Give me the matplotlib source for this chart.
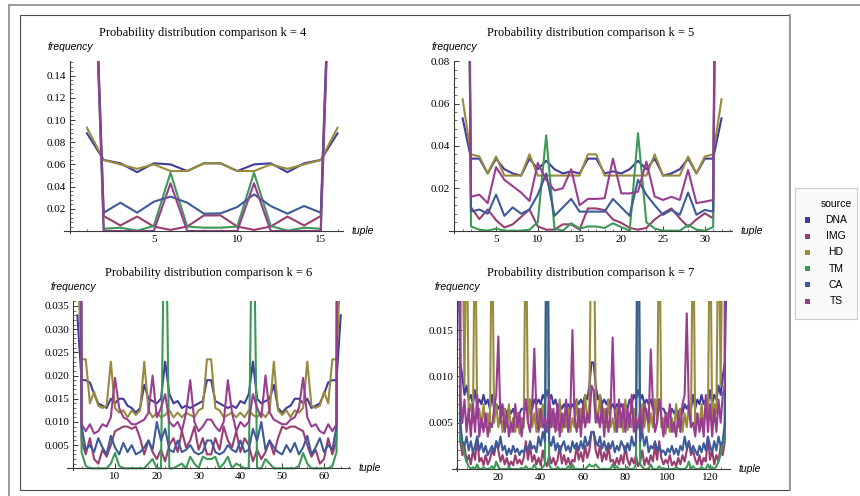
import numpy as np
import matplotlib
matplotlib.use('Agg')
import matplotlib.pyplot as plt
from matplotlib.patches import Rectangle
from matplotlib.lines import Line2D
from matplotlib.ticker import MultipleLocator

W, H = 860, 496

sources = ['DNA', 'IMG', 'HD', 'TM', 'CA', 'TS']
colors = [(0.2472, 0.24, 0.6), (0.6, 0.24, 0.442893), (0.6, 0.547014, 0.24),
          (0.24, 0.6, 0.33692), (0.24, 0.353173, 0.6), (0.6, 0.24, 0.563266)]

# ---- k = 4 (16 tuples)
dna4 = [0.088, 0.064, 0.061, 0.053, 0.061, 0.060, 0.054, 0.061, 0.061, 0.054, 0.060, 0.061, 0.053, 0.061, 0.064, 0.088]
img4 = [0.45, 0.0135, 0.005, 0.013, 0.004, 0.001, 0.004, 0.014, 0.014, 0.004, 0.001, 0.004, 0.013, 0.005, 0.0135, 0.45]
hd4 = [0.093, 0.064, 0.060, 0.056, 0.060, 0.054, 0.054, 0.061, 0.061, 0.054, 0.054, 0.060, 0.056, 0.060, 0.064, 0.093]
tm4 = [0.45, 0.002, 0.003, 0.0003, 0.0045, 0.0525, 0.004, 0.003, 0.003, 0.004, 0.0525, 0.0045, 0.0003, 0.003, 0.002, 0.45]
ca4 = [0.45, 0.0165, 0.0255, 0.0165, 0.0264, 0.031, 0.0255, 0.0156, 0.0159, 0.0216, 0.033, 0.0225, 0.0156, 0.0225, 0.0165, 0.45]
ts4 = [0.45, 0, 0, 0, 0, 0.043, 0, 0, 0, 0, 0.043, 0, 0, 0, 0, 0.45]

# ---- k = 5 (32 tuples)
dna5 = [0.053, 0.034, 0.034, 0.027, 0.034, 0.029, 0.027, 0.026, 0.034, 0.029, 0.033, 0.029, 0.027, 0.028, 0.027, 0.034,
        0.034, 0.027, 0.028, 0.027, 0.029, 0.033, 0.029, 0.034, 0.026, 0.027, 0.029, 0.034, 0.027, 0.034, 0.034, 0.053]
img5 = [0.5, 0.011, 0.0055, 0.010, 0.005, 0.0015, 0.003, 0.0065, 0.010, 0.002, 0.0005, 0.0005, 0.003, 0.003, 0.0005, 0.0105,
        0.0105, 0.0097, 0.0053, 0.0037, 0.0013, 0.0005, 0.0013, 0.0053, 0.0082, 0.0105, 0.0058, 0.0018, 0.0053, 0.0082, 0.0058, 0.5]
hd5 = [0.062, 0.036, 0.035, 0.027, 0.035, 0.026, 0.026, 0.026, 0.036, 0.026, 0.026, 0.026, 0.026, 0.026, 0.026, 0.036,
       0.036, 0.026, 0.026, 0.026, 0.026, 0.026, 0.026, 0.036, 0.026, 0.026, 0.026, 0.035, 0.027, 0.035, 0.036, 0.062]
tm5 = [0.5, 0.002, 0.0005, 0, 0.001, 0, 0, 0, 0.0005, 0.004, 0.045, 0.001, 0, 0.0035, 0.001, 0.002,
       0.002, 0.0013, 0.0035, 0.0017, 0, 0.046, 0.004, 0.001, 0, 0, 0, 0.0027, 0.0005, 0, 0.0017, 0.5]
ca5 = [0.5, 0.009, 0.010, 0.008, 0.017, 0.007, 0.011, 0.008, 0.010, 0.017, 0.027, 0.007, 0.011, 0.015, 0.009, 0.009,
       0.009, 0.009, 0.015, 0.011, 0.007, 0.024, 0.017, 0.012, 0.0075, 0.0098, 0.0075, 0.018, 0.0075, 0.0098, 0.009, 0.5]
ts5 = [0.55, 0.016, 0.017, 0.013, 0.030, 0.024, 0.021, 0.018, 0.014, 0.032, 0.024, 0.019, 0.020, 0.029, 0.012, 0.015,
       0.015, 0.0153, 0.034, 0.0176, 0.0176, 0.0184, 0.0326, 0.0161, 0.0145, 0.016, 0.0145, 0.0286, 0.013, 0.0137, 0.0145, 0.55]

# ---- k = 6 (64 tuples)
dna6 = [.033, .019, .019, .0185, .016, .014, .0135, .013, .015, .014, .015, .015, .0135, .013, .012, .013,
        .018, .015, .0145, .014, .015, .023, .016, .014, .0145, .013, .0135, .013, .0135, .014, .0145, .019,
        .019, .0145, .014, .0135, .013, .0135, .013, .0145, .014, .016, .023, .015, .014, .0145, .015, .018,
        .013, .012, .013, .0135, .015, .015, .014, .015, .013, .0135, .014, .016, .0185, .019, .019, .033]
img6 = [0.40, .006, .003, .0065, .002, .001, .004, .0025, .005, .008, .0085, .009, .009, .0085, .009, .0065,
        .003, .006, .0035, .002, .004, .0015, .005, .0065, .0035, .008, .0045, .006, .009, .004, .0065, .003,
        .003, .0065, .004, .009, .006, .0045, .008, .0035, .0065, .005, .0015, .004, .002, .0035, .006, .003,
        .0065, .009, .0085, .009, .009, .0085, .008, .005, .0025, .004, .001, .002, .0065, .003, .006, 0.40]
hd6 = [.045, .0235, .0235, .014, .0165, .0135, .013, .0135, .023, .013, .012, .0125, .011, .0125, .0115, .0125,
       .023, .0125, .011, .012, .011, .0115, .0125, .011, .012, .011, .012, .0115, .011, .0125, .013, .0235,
       .0235, .013, .0125, .011, .0115, .012, .011, .012, .011, .0125, .0115, .011, .012, .011, .0125, .023,
       .0125, .0115, .0125, .011, .0125, .012, .013, .023, .0135, .013, .0135, .0165, .014, .0235, .0235, .045]
tm6 = [0.40, .0035, .0005, 0, 0, 0, 0, 0, .001, .0033, .0005, 0, 0, 0, 0, 0,
       0, .001, .002, 0, 0, .07, 0, 0, .0005, .001, 0, .0025, .001, 0, .0025, .002,
       .002, .0025, 0, .001, .0025, 0, .001, .0005, 0, 0, .07, 0, 0, .002, .001, 0,
       0, 0, 0, 0, 0, .0005, .0033, .001, 0, 0, 0, 0, 0, .0005, .0035, 0.40]
ca6 = [0.40, .009, .004, .005, .0035, .0065, .0045, .003, .007, .0045, .003, .0055, .0035, .005, .003, .0035,
       .0045, .006, .004, .010, .006, .0085, .004, .0035, .006, .0035, .004, .005, .0035, .003, .0035, .006,
       .006, .0035, .003, .0035, .005, .004, .0035, .006, .0035, .004, .0085, .006, .010, .004, .006, .0045,
       .0035, .003, .005, .0035, .0055, .003, .0045, .007, .003, .0045, .0065, .0035, .005, .004, .009, 0.40]
ts6 = [0.40, .0095, .008, .0095, .0075, .008, .0095, .009, .011, .0195, .013, .011, .0105, .0095, .0095, .010,
       .0105, .012, .020, .011, .013, .016, .010, .009, .010, .008, .012, .019, .010, .008, .009, .0105,
       .0105, .009, .008, .010, .019, .012, .008, .010, .009, .010, .016, .013, .011, .020, .012, .0105,
       .010, .0095, .0095, .0105, .011, .013, .0195, .011, .009, .0095, .008, .0075, .0095, .008, .0095, 0.40]

# ---- k = 7 (128 tuples), values in units of 1e-3
dna7 = [25, 11.5, 10, 8, 9, 7.5, 8, 7, 8.5, 7, 7.5, 7, 8, 7, 7.5, 6.5,
        8, 6.5, 7, 6.5, 7, 6, 6.5, 6, 6.5, 6, 6.5, 5.8, 6, 6, 6.5, 6.5,
        7.5, 7, 7.5, 6.5, 7.5, 7, 7.5, 7, 8, 7.5, 8.5, 7.5, 8, 7, 7.5, 6.5,
        7, 6.5, 7, 6.5, 7, 6.5, 7, 6.5, 7.5, 7, 7.5, 7, 8, 7.5, 9, 11.5,
        11.5, 9, 7.5, 8, 7, 7.5, 7, 7.5, 6.5, 7, 6.5, 7, 6.5, 7, 6.5, 7,
        6.5, 7.5, 7, 8, 7.5, 8.5, 7.5, 8, 7, 7.5, 7, 7.5, 6.5, 7.5, 7, 7.5,
        6.5, 6.5, 6, 6, 5.8, 6.5, 6, 6.5, 6, 6.5, 6, 7, 6.5, 7, 6.5, 8,
        6.5, 7.5, 7, 8, 7, 7.5, 7, 8.5, 7, 8, 7.5, 9, 8, 10, 11.5, 25]
img7 = [300, 3, 1.5, 2.5, 0.8, 1.5, 0.5, 2, 1, 3.5, 0.8, 1.2, 0.4, 1.5, 0.5, 1,
        2, 1.5, 3, 2, 0.8, 1.5, 0.5, 1.2, 0.3, 0.8, 0.4, 1.5, 0.6, 1, 0.5, 1.2,
        3, 1, 2.5, 0.8, 1.5, 0.5, 1.2, 0.4, 2, 0.8, 0.3, 1.5, 0.6, 1.2, 0.4, 1,
        2.5, 0.6, 1.5, 0.5, 1.2, 0.4, 1, 0.8, 2.5, 1, 1.8, 0.8, 2.5, 1.2, 2, 4,
        4, 2, 1.2, 2.5, 0.8, 1.8, 1, 2.5, 0.8, 1, 0.4, 1.2, 0.5, 1.5, 0.6, 2.5,
        1, 0.4, 1.2, 0.6, 1.5, 0.3, 0.8, 2, 0.4, 1.2, 0.5, 1.5, 0.8, 2.5, 1, 3,
        1.2, 0.5, 1, 0.6, 1.5, 0.4, 0.8, 0.3, 1.2, 0.5, 1.5, 0.8, 2, 3, 1.5, 2,
        1, 0.5, 1.5, 0.4, 1.2, 0.8, 3.5, 1, 2, 0.5, 1.5, 0.8, 2.5, 1.5, 3, 300]
hd7 = [40, 30, 28, 9, 30, 6, 7, 5, 30, 5.5, 6.5, 4.5, 7, 4.5, 6, 4,
       30, 5, 7, 4.5, 6, 4, 6.5, 4.5, 7, 4, 5.5, 4, 6, 3.8, 5.5, 4.5,
       30, 5, 7.5, 4.5, 6, 4, 6.5, 4.5, 7, 4, 5, 4, 6.5, 4.5, 6, 4.2,
       7.5, 4, 6, 4.5, 6.5, 4, 5.5, 4.5, 7.5, 4.5, 6.5, 5, 8, 5, 7, 30,
       30, 7, 5, 8, 5, 6.5, 4.5, 7.5, 4.5, 5.5, 4, 6.5, 4.5, 6, 4, 7.5,
       4.2, 6, 4.5, 6.5, 4, 5, 4, 7, 4.5, 6.5, 4, 6, 4.5, 7.5, 5, 30,
       4.5, 5.5, 3.8, 6, 4, 5.5, 4, 7, 4.5, 6.5, 4, 6, 4.5, 7, 5, 30,
       4, 6, 4.5, 7, 4.5, 6.5, 5.5, 30, 5, 7, 6, 30, 9, 28, 30, 40]
tm7 = [300, 3, 2.8, 1.5, 0.8, 0.3, 0, 0.2, 0, 0.5, 0, 0, 0.2, 0, 0, 0,
       0.3, 0, 0.8, 0.2, 0, 0, 0, 0, 0.2, 0, 0, 0, 0, 0, 0.1, 0,
       0.3, 0, 0, 0, 0.5, 0, 0, 0, 0.2, 0.5, 35, 0.5, 0, 0, 0, 0.2,
       0, 0, 0, 0, 0.3, 0, 0.5, 0, 0, 0, 0, 0, 0, 0.2, 0.5, 0.3,
       0.3, 0.5, 0.2, 0, 0, 0, 0, 0, 0, 0.5, 0, 0.3, 0, 0, 0, 0,
       0.2, 0, 0, 0, 0.5, 35, 0.5, 0.2, 0, 0, 0, 0.5, 0, 0, 0, 0.3,
       0, 0.1, 0, 0, 0, 0, 0, 0.2, 0, 0, 0, 0, 0.2, 0.8, 0, 0.3,
       0, 0, 0, 0.2, 0, 0, 0.5, 0, 0.2, 0, 0.3, 0.8, 1.5, 2.8, 3, 300]
ca7 = [300, 5, 3, 2.5, 3.5, 2, 3, 1.8, 2.5, 3.5, 2, 2.8, 1.8, 2.5, 1.5, 2,
       2.5, 1.8, 3, 2.2, 3.5, 2, 2.5, 1.5, 2.2, 1.6, 2.5, 1.8, 2.2, 1.5, 2, 1.8,
       2.5, 2, 3, 2.2, 2.5, 1.8, 3.5, 2.5, 4, 3, 40, 3, 2.5, 3.5, 2, 2.8,
       1.8, 2.5, 3, 2, 2.5, 1.8, 3, 2.2, 2.8, 2, 3, 2.2, 3.5, 2.5, 3, 4,
       4, 3, 2.5, 3.5, 2.2, 3, 2, 2.8, 2.2, 3, 1.8, 2.5, 2, 3, 2.5, 1.8,
       2.8, 2, 3.5, 2.5, 3, 40, 3, 4, 2.5, 3.5, 1.8, 2.5, 2.2, 3, 2, 2.5,
       1.8, 2, 1.5, 2.2, 1.8, 2.5, 1.6, 2.2, 1.5, 2.5, 2, 3.5, 2.2, 3, 1.8, 2.5,
       2, 1.5, 2.5, 1.8, 2.8, 2, 3.5, 2.5, 1.8, 3, 2, 3.5, 2.5, 3, 5, 300]
ts7 = [300, 8, 5, 7.5, 4, 6.5, 3.5, 7, 4, 8, 3.5, 5.5, 4, 6, 3.5, 5,
       4.5, 6.5, 8, 14.3, 5, 7, 4, 6, 3.5, 5, 4, 7, 4.5, 6, 3.5, 5.5,
       7.5, 5, 4, 7, 13, 6, 4, 6.5, 4.5, 5.5, 4, 8, 4.5, 6.5, 4, 7,
       3.5, 6, 4.5, 7.5, 4, 6, 15, 5.5, 4, 6.5, 3.5, 7, 4.5, 6, 5, 9,
       8.5, 5, 6, 4.5, 7, 3.5, 6.5, 4, 6, 14.2, 6, 4, 7.5, 4.5, 7, 4,
       6.5, 4.5, 8, 4, 5.5, 4.5, 6.5, 4, 7, 6, 5, 12.9, 7, 4, 5, 7.5,
       5.5, 3.5, 6, 4.5, 7, 4, 5, 3.5, 6, 4, 7, 8, 16.8, 6.5, 4.5, 5,
       3.5, 6, 4, 5.5, 3.5, 8, 4, 7, 3.5, 6.5, 4, 7.5, 5, 8, 9, 300]

plt.rcParams['font.family'] = ['Liberation Serif', 'DejaVu Serif']
fig = plt.figure(figsize=(W / 100, H / 100), dpi=100)


def fx(px):
    return px / W


def fy(py):
    return 1 - py / H


def panel(box, x0, ppx, y0, ppy, series, scale, origin, yticks, ylabels, yminor,
          xticks, xminor, title):
    left, top, right, bottom = box
    ax = fig.add_axes([fx(left), fy(bottom), (right - left) / W, (bottom - top) / H])
    ax.patch.set_alpha(0)
    n = len(series[0])
    xs = np.arange(1, n + 1)
    for s, c in zip(series, colors):
        ax.plot(xs, np.array(s) * scale, color=c, lw=1.5)
    ax.set_xlim((left - x0) / ppx, (right - x0) / ppx)
    ax.set_ylim((y0 - bottom) / ppy, (y0 - top) / ppy)
    for side in ['top', 'right']:
        ax.spines[side].set_visible(False)
    ax.spines['left'].set_position(('data', origin))
    ax.spines['bottom'].set_position(('data', 0))
    for side in ['left', 'bottom']:
        ax.spines[side].set_color('#3a3a3a')
        ax.spines[side].set_linewidth(0.8)
    ax.set_yticks(yticks)
    ax.set_yticklabels(ylabels)
    ax.set_xticks(xticks)
    ax.set_xticklabels([str(t) for t in xticks])
    ax.yaxis.set_minor_locator(MultipleLocator(yminor))
    ax.xaxis.set_minor_locator(MultipleLocator(xminor))
    ax.tick_params(which='major', direction='in', length=3.5, width=0.7,
                   color='#3a3a3a', labelsize=8, pad=3)
    ax.tick_params(which='minor', direction='in', length=1.8, width=0.5, color='#3a3a3a')
    fig.text(fx((left + right) / 2), fy(top - 25), title, ha='center', va='baseline',
             fontsize=9)
    axis_px = x0 + origin * ppx
    fig.text(fx(axis_px), fy(top - 14), 'frequency', ha='center', va='center',
             family='Liberation Sans', style='italic', fontsize=7.5)
    fig.text(fx(right + 9), fy(y0), 'tuple', ha='left', va='center',
             family='Liberation Sans', style='italic', fontsize=7.5)
    return ax


panel((63.6, 61.2, 342.5, 233), 70.3, 16.7, 231, 1110,
      [dna4, img4, hd4, tm4, ca4, ts4], 1.0, 0,
      [0.02, 0.04, 0.06, 0.08, 0.10, 0.12, 0.14],
      ['0.02', '0.04', '0.06', '0.08', '0.10', '0.12', '0.14'], 0.004,
      [5, 10, 15], 1, 'Probability distribution comparison k = 4')

panel((449, 61, 731.7, 232.7), 454.3, 8.35, 230.7, 2120,
      [dna5, img5, hd5, tm5, ca5, ts5], 1.0, 0,
      [0.02, 0.04, 0.06, 0.08], ['0.02', '0.04', '0.06', '0.08'], 0.004,
      [5, 10, 15, 20, 25, 30], 1, 'Probability distribution comparison k = 5')

panel((66.7, 300.7, 350, 470.3), 73.2, 4.18, 468.3, 4638,
      [dna6, img6, hd6, tm6, ca6, ts6], 1.0, 0,
      [0.005, 0.010, 0.015, 0.020, 0.025, 0.030, 0.035],
      ['0.005', '0.010', '0.015', '0.020', '0.025', '0.030', '0.035'], 0.001,
      [10, 20, 30, 40, 50, 60], 2, 'Probability distribution comparison k = 6')

panel((451.7, 300.7, 730, 471), 456, 2.117, 469, 9266,
      [dna7, img7, hd7, tm7, ca7, ts7], 1e-3, 0.6,
      [0.005, 0.010, 0.015], ['0.005', '0.010', '0.015'], 0.001,
      [20, 40, 60, 80, 100, 120], 5, 'Probability distribution comparison k = 7')

# outer frame and inner box
fig.add_artist(Line2D([fx(9), fx(860)], [fy(4.7), fy(4.7)], color='#9a9a9a', lw=1.4))
fig.add_artist(Line2D([fx(9), fx(9)], [fy(4.7), fy(496)], color='#9a9a9a', lw=1.4))
fig.add_artist(Rectangle((fx(20), fy(490)), (789 - 20) / W, (490 - 15) / H,
                         transform=fig.transFigure, fill=False, ec='#4a4a4a', lw=0.8))
fig.add_artist(Line2D([fx(789.5), fx(789.5)], [fy(15), fy(490)], color='#9a9a9a', lw=1.4))

# legend
fig.add_artist(Rectangle((fx(795), fy(319)), 62 / W, (319 - 188) / H,
                         transform=fig.transFigure, fc='#fafafa', ec='#cccccc', lw=0.8))
fig.text(fx(836), fy(204), 'source', ha='center', va='center',
         family='Liberation Sans', fontsize=7.5)
for i, (name, c) in enumerate(zip(sources, colors)):
    yc = 220 + i * 16.2
    fig.add_artist(Rectangle((fx(804.5), fy(yc + 2.5)), 5 / W, 5 / H,
                             transform=fig.transFigure, fc=c, ec='none'))
    fig.text(fx(836), fy(yc), name, ha='center', va='center',
             family='Liberation Sans', fontsize=7.5)

fig.savefig('out.png', dpi=100)
